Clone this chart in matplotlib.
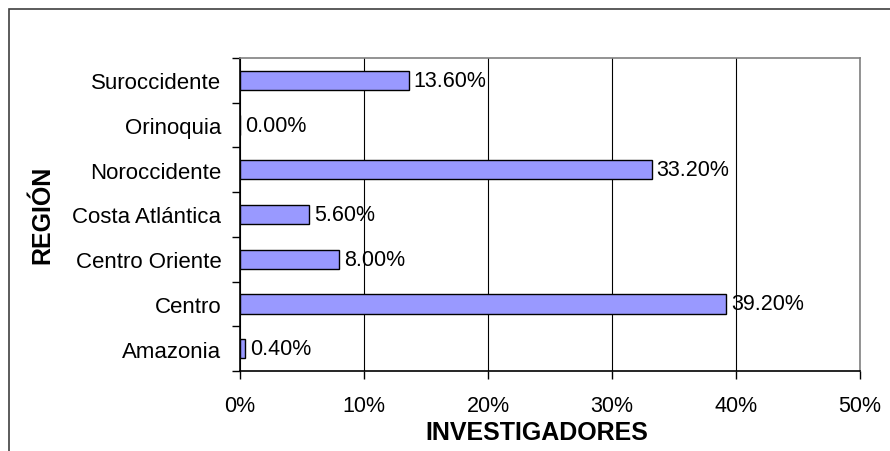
import matplotlib.pyplot as plt
from matplotlib.patches import Rectangle
from matplotlib.ticker import FuncFormatter, FixedLocator

plt.rcParams['font.family'] = ['Liberation Sans', 'DejaVu Sans']

# researchers share by region
regiones = ['Amazonia', 'Centro', 'Centro Oriente', 'Costa Atlántica',
            'Noroccidente', 'Orinoquia', 'Suroccidente']
porcentajes = [0.40, 39.20, 8.00, 5.60, 33.20, 0.00, 13.60]

W, H = 890, 452
fig = plt.figure(figsize=(W / 100, H / 100), dpi=100)
ax = fig.add_axes([240 / W, 80 / H, 620 / W, 313 / H])

# outer chart frame (only left and top edges fall inside the image)
fig.patches.append(Rectangle((9 / W, -0.5), 2.0, 1.5 - 10 / H,
                             transform=fig.transFigure, fill=False,
                             edgecolor='#404040', linewidth=1.2))

pos = list(range(len(regiones)))
bars = ax.barh(pos, porcentajes, height=0.43, color='#9999FF',
               edgecolor='black', linewidth=1.0, zorder=3)

for b, v in zip(bars, porcentajes):
    ax.annotate(f'{v:.2f}%', xy=(b.get_width(), b.get_y() + b.get_height() / 2),
                xytext=(3.5, 0), textcoords='offset points', va='center', ha='left',
                fontsize=15.5, zorder=4)

ax.set_xlim(0, 50)
ax.set_ylim(-0.5, len(regiones) - 0.5)
ax.set_xticks([0, 10, 20, 30, 40, 50])
ax.xaxis.set_major_formatter(FuncFormatter(lambda x, p: f'{x:.0f}%'))
ax.set_yticks(pos)
ax.set_yticklabels(regiones)
ax.yaxis.set_minor_locator(FixedLocator([p - 0.5 for p in pos] + [len(pos) - 0.5]))
ax.tick_params(axis='y', which='major', length=0, labelsize=16, pad=13.5)
ax.tick_params(axis='y', which='minor', length=6, direction='out', width=1)
ax.tick_params(axis='x', length=6, direction='out', width=1, labelsize=15.5, pad=11)

ax.grid(axis='x', color='black', linewidth=0.8, zorder=0)
ax.set_axisbelow(True)

for side in ('top', 'right'):
    ax.spines[side].set_color('#808080')
    ax.spines[side].set_linewidth(1.2)
for side in ('left', 'bottom'):
    ax.spines[side].set_color('black')
    ax.spines[side].set_linewidth(1.2)

fig.text(536.5 / W, 1 - 433 / H, 'INVESTIGADORES', fontsize=18, fontweight='bold',
         ha='center', va='center')
fig.text(42 / W, 1 - 215 / H, 'REGIÓN', fontsize=18, fontweight='bold',
         ha='center', va='center', rotation=90)

fig.savefig('out.png', dpi=100, facecolor='white')
